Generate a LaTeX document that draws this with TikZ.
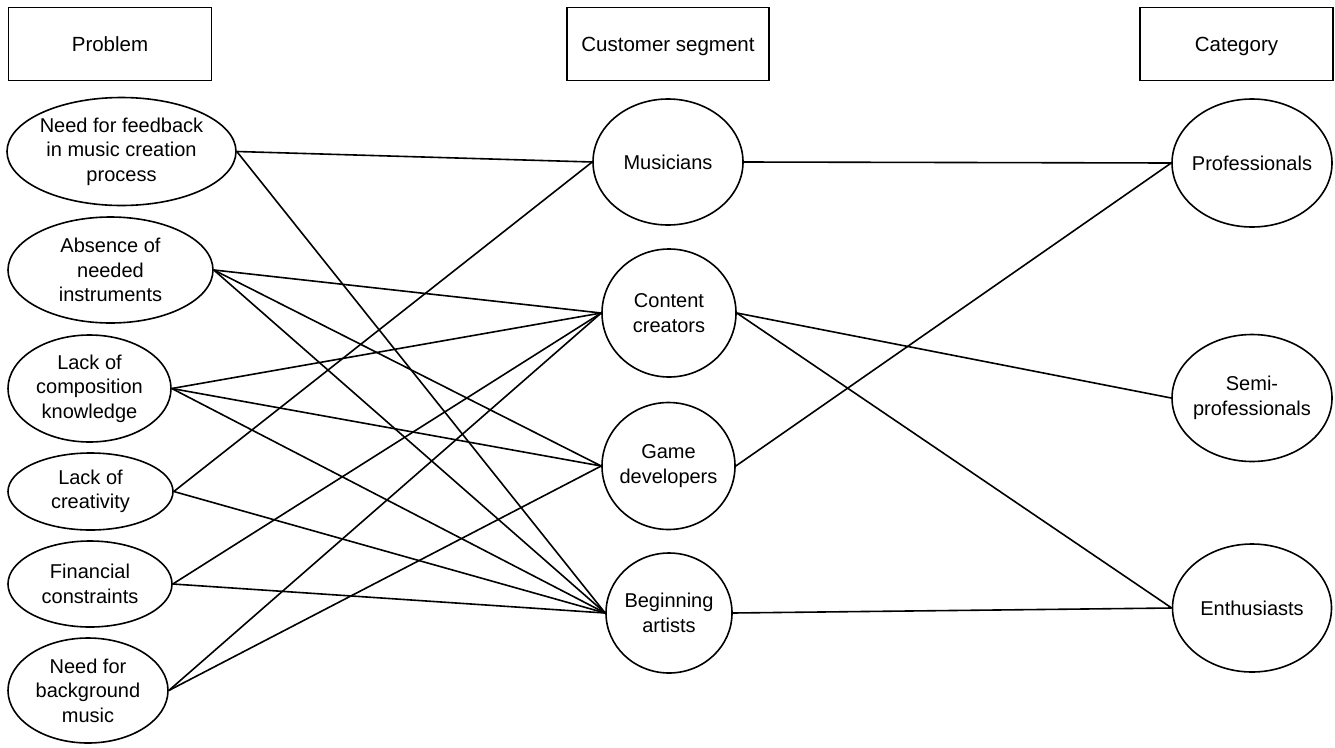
\documentclass[tikz,border=0pt]{standalone}
\usepackage{fontspec}
\setmainfont{Liberation Sans}
\usetikzlibrary{shapes.geometric}
\begin{document}
\begin{tikzpicture}[x=1pt,y=-1pt,
  lbl/.style={font=\fontsize{20}{24.5}\selectfont, align=center, inner sep=0pt},
  hdr/.style={draw, line width=1.6pt, rectangle, minimum height=73pt, inner sep=0pt, text height=14pt, text depth=0pt, font=\fontsize{20.5}{24}\selectfont},
  ell/.style={draw, line width=1.6pt, ellipse, inner sep=0pt},
  link/.style={line width=1.6pt}]
\useasboundingbox (0,0) rectangle (1335,747);
% headers
\node[hdr, minimum width=203pt] (hp) at (110,44) {Problem};
\node[hdr, minimum width=202pt] (hc) at (668,44) {Customer segment};
\node[hdr, minimum width=193pt] (hk) at (1236.5,44) {Category};
% problems
\node[ell, minimum width=229pt, minimum height=108pt, label={[lbl]center:{Need for feedback\\in music creation\\process}}] (p1) at (121.5,151.5) {};
\node[ell, minimum width=205pt, minimum height=106pt, label={[lbl]center:{Absence of\\needed\\instruments}}] (p2) at (110.5,270) {};
\node[ell, minimum width=163pt, minimum height=107pt, label={[lbl]center:{Lack of\\composition\\knowledge}}] (p3) at (89.5,388.5) {};
\node[ell, minimum width=165pt, minimum height=77pt, label={[lbl]center:{Lack of\\creativity}}] (p4) at (90.5,491.5) {};
\node[ell, minimum width=164pt, minimum height=86pt, label={[lbl]center:{Financial\\constraints}}] (p5) at (90,584) {};
\node[ell, minimum width=160pt, minimum height=105pt, label={[lbl]center:{Need for\\background\\music}}] (p6) at (88,690.5) {};
% segments
\node[ell, minimum width=150pt, minimum height=126pt, label={[lbl]center:{Musicians}}] (m1) at (668,162) {};
\node[ell, minimum width=134pt, minimum height=128pt, label={[lbl]center:{Content\\creators}}] (m2) at (669,313) {};
\node[ell, minimum width=133pt, minimum height=127pt, label={[lbl]center:{Game\\developers}}] (m3) at (668.5,466) {};
\node[ell, minimum width=126pt, minimum height=120pt, label={[lbl]center:{Beginning\\artists}}] (m4) at (669,613) {};
% categories
\node[ell, minimum width=160pt, minimum height=128pt, label={[lbl]center:{Professionals}}] (r1) at (1252,163) {};
\node[ell, minimum width=160pt, minimum height=127pt, label={[lbl]center:{Semi-\\professionals}}] (r2) at (1252,398) {};
\node[ell, minimum width=159pt, minimum height=128pt, label={[lbl]center:{Enthusiasts}}] (r3) at (1252,608) {};
% links
\draw[link] (p1.east) -- (m1.west);
\draw[link] (p1.east) -- (m4.west);
\draw[link] (p2.east) -- (m2.west);
\draw[link] (p2.east) -- (m3.west);
\draw[link] (p2.east) -- (m4.west);
\draw[link] (p3.east) -- (m2.west);
\draw[link] (p3.east) -- (m3.west);
\draw[link] (p3.east) -- (m4.west);
\draw[link] (p4.east) -- (m1.west);
\draw[link] (p4.east) -- (m4.west);
\draw[link] (p5.east) -- (m2.west);
\draw[link] (p5.east) -- (m4.west);
\draw[link] (p6.east) -- (m2.west);
\draw[link] (p6.east) -- (m3.west);
\draw[link] (m1.east) -- (r1.west);
\draw[link] (m2.east) -- (r2.west);
\draw[link] (m2.east) -- (r3.west);
\draw[link] (m3.east) -- (r1.west);
\draw[link] (m4.east) -- (r3.west);
\end{tikzpicture}
\end{document}
